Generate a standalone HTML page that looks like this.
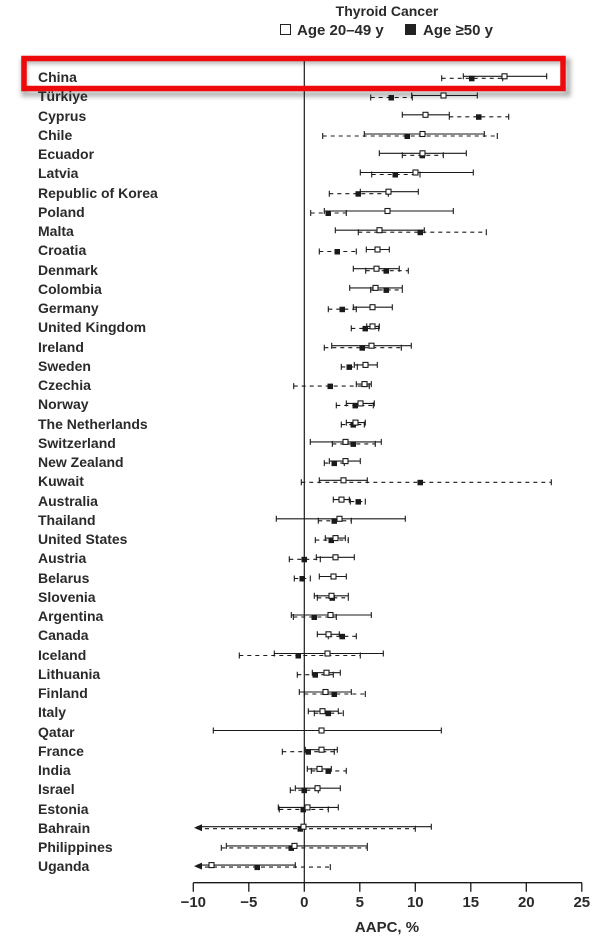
<!DOCTYPE html>
<html><head><meta charset="utf-8"><style>
html,body{margin:0;padding:0;background:#fff;}
svg{display:block;font-family:"Liberation Sans",sans-serif;}
.l{font-size:14px;font-weight:bold;fill:#2a2a2a;}
.o{stroke:#1a1a1a;stroke-width:1.1;fill:none;}
.f{stroke:#1a1a1a;stroke-width:1.1;fill:none;stroke-dasharray:4 4;}
.os{fill:#fff;stroke:#1a1a1a;stroke-width:1.1;}
.fs{fill:#1a1a1a;}
</style></head><body>
<svg width="603" height="946" viewBox="0 0 603 946">
<defs><filter id="sh" x="-5%" y="-50%" width="110%" height="200%"><feGaussianBlur stdDeviation="2.5"/></filter></defs>
<text x="387" y="16" text-anchor="middle" style="font-size:14px;font-weight:bold;fill:#2a2a2a">Thyroid Cancer</text>
<rect x="280.5" y="24.5" width="10" height="10" fill="#fff" stroke="#222"/>
<text x="297" y="35" style="font-size:15px;font-weight:bold;fill:#2a2a2a">Age 20–49 y</text>
<rect x="405" y="24" width="11" height="11" fill="#222"/>
<text x="423" y="35" style="font-size:15px;font-weight:bold;fill:#2a2a2a">Age ≥50 y</text>

<rect x="24" y="61" width="544" height="33" fill="none" stroke="#888" stroke-width="5" filter="url(#sh)" opacity="0.7"/>

<line x1="304.3" y1="60" x2="304.3" y2="883" stroke="#1a1a1a" stroke-width="1.2"/>

<g class="l">
<text x="38" y="82">China</text><text x="38" y="101">Türkiye</text><text x="38" y="121">Cyprus</text><text x="38" y="140">Chile</text><text x="38" y="159">Ecuador</text><text x="38" y="178">Latvia</text><text x="38" y="198">Republic of Korea</text><text x="38" y="217">Poland</text><text x="38" y="236">Malta</text><text x="38" y="255">Croatia</text><text x="38" y="275">Denmark</text><text x="38" y="294">Colombia</text><text x="38" y="313">Germany</text><text x="38" y="332">United Kingdom</text><text x="38" y="352">Ireland</text><text x="38" y="371">Sweden</text><text x="38" y="390">Czechia</text><text x="38" y="409">Norway</text><text x="38" y="429">The Netherlands</text><text x="38" y="448">Switzerland</text><text x="38" y="467">New Zealand</text><text x="38" y="486">Kuwait</text><text x="38" y="506">Australia</text><text x="38" y="525">Thailand</text><text x="38" y="544">United States</text><text x="38" y="563">Austria</text><text x="38" y="583">Belarus</text><text x="38" y="602">Slovenia</text><text x="38" y="621">Argentina</text><text x="38" y="640">Canada</text><text x="38" y="660">Iceland</text><text x="38" y="679">Lithuania</text><text x="38" y="698">Finland</text><text x="38" y="717">Italy</text><text x="38" y="737">Qatar</text><text x="38" y="756">France</text><text x="38" y="775">India</text><text x="38" y="794">Israel</text><text x="38" y="814">Estonia</text><text x="38" y="833">Bahrain</text><text x="38" y="852">Philippines</text><text x="38" y="871">Uganda</text>
</g>

<!-- rows: solid open line, dashed filled line -->
<g transform="translate(0,77.3)"><path class="f" d="M441.7 1H502.7"/><path class="o" d="M441.7 -2V4M502.7 -2V4M463.3 -1H546.7M463.3 -4V2M546.7 -4V2"/><rect class="fs" x="469" y="-1.5" width="5.5" height="5.5"/><rect class="os" x="502" y="-3.5" width="5" height="5"/></g>
<g transform="translate(0,96.5)"><path class="f" d="M370.7 1H412.3"/><path class="o" d="M370.7 -2V4M412.3 -2V4M411.7 -1H477.3M411.7 -4V2M477.3 -4V2"/><rect class="fs" x="388.5" y="-1.5" width="5.5" height="5.5"/><rect class="os" x="441" y="-3.5" width="5" height="5"/></g>
<g transform="translate(0,115.8)"><path class="f" d="M449.3 1H508.7"/><path class="o" d="M449.3 -2V4M508.7 -2V4M402.3 -1H449.3M402.3 -4V2M449.3 -4V2"/><rect class="fs" x="476" y="-1.5" width="5.5" height="5.5"/><rect class="os" x="423" y="-3.5" width="5" height="5"/></g>
<g transform="translate(0,135)"><path class="f" d="M322.7 1H497.3"/><path class="o" d="M322.7 -2V4M497.3 -2V4M364.3 -1H484.3M364.3 -4V2M484.3 -4V2"/><rect class="fs" x="404.5" y="-1.5" width="5.5" height="5.5"/><rect class="os" x="420" y="-3.5" width="5" height="5"/></g>
<g transform="translate(0,154.3)"><path class="f" d="M402.3 1H443.3"/><path class="o" d="M402.3 -2V4M443.3 -2V4M379.3 -1H466.3M379.3 -4V2M466.3 -4V2"/><rect class="fs" x="419.5" y="-1.5" width="5.5" height="5.5"/><rect class="os" x="420" y="-3.5" width="5" height="5"/></g>
<g transform="translate(0,173.5)"><path class="f" d="M371.7 1H420"/><path class="o" d="M371.7 -2V4M420 -2V4M360.3 -1H473.3M360.3 -4V2M473.3 -4V2"/><rect class="fs" x="392.5" y="-1.5" width="5.5" height="5.5"/><rect class="os" x="413" y="-3.5" width="5" height="5"/></g>
<g transform="translate(0,192.7)"><path class="f" d="M329.3 1H388.3"/><path class="o" d="M329.3 -2V4M388.3 -2V4M360.3 -1H418.3M360.3 -4V2M418.3 -4V2"/><rect class="fs" x="355.5" y="-1.5" width="5.5" height="5.5"/><rect class="os" x="386" y="-3.5" width="5" height="5"/></g>
<g transform="translate(0,212)"><path class="f" d="M310.7 1H346.3"/><path class="o" d="M310.7 -2V4M346.3 -2V4M324.3 -1H453.3M324.3 -4V2M453.3 -4V2"/><rect class="fs" x="325.5" y="-1.5" width="5.5" height="5.5"/><rect class="os" x="385" y="-3.5" width="5" height="5"/></g>
<g transform="translate(0,231.2)"><path class="f" d="M358.3 1H486.3"/><path class="o" d="M358.3 -2V4M486.3 -2V4M335.3 -1H424.3M335.3 -4V2M424.3 -4V2"/><rect class="fs" x="417.5" y="-1.5" width="5.5" height="5.5"/><rect class="os" x="377" y="-3.5" width="5" height="5"/></g>
<g transform="translate(0,250.5)"><path class="f" d="M319.3 1H356.3"/><path class="o" d="M319.3 -2V4M356.3 -2V4M366.3 -1H389.3M366.3 -4V2M389.3 -4V2"/><rect class="fs" x="334.5" y="-1.5" width="5.5" height="5.5"/><rect class="os" x="375" y="-3.5" width="5" height="5"/></g>
<g transform="translate(0,269.7)"><path class="f" d="M365.7 1H408.3"/><path class="o" d="M365.7 -2V4M408.3 -2V4M353.3 -1H399.3M353.3 -4V2M399.3 -4V2"/><rect class="fs" x="383.5" y="-1.5" width="5.5" height="5.5"/><rect class="os" x="374" y="-3.5" width="5" height="5"/></g>
<g transform="translate(0,288.9)"><path class="f" d="M370.7 1H402.3"/><path class="o" d="M370.7 -2V4M402.3 -2V4M349.7 -1H402.3M349.7 -4V2M402.3 -4V2"/><rect class="fs" x="383.5" y="-1.5" width="5.5" height="5.5"/><rect class="os" x="373" y="-3.5" width="5" height="5"/></g>
<g transform="translate(0,308.2)"><path class="f" d="M328.3 1H356.3"/><path class="o" d="M328.3 -2V4M356.3 -2V4M353.3 -1H392.3M353.3 -4V2M392.3 -4V2"/><rect class="fs" x="339.5" y="-1.5" width="5.5" height="5.5"/><rect class="os" x="370" y="-3.5" width="5" height="5"/></g>
<g transform="translate(0,327.4)"><path class="f" d="M351.3 1H378.7"/><path class="o" d="M351.3 -2V4M378.7 -2V4M366.7 -1H379.3M366.7 -4V2M379.3 -4V2"/><rect class="fs" x="362.5" y="-1.5" width="5.5" height="5.5"/><rect class="os" x="370" y="-3.5" width="5" height="5"/></g>
<g transform="translate(0,346.7)"><path class="f" d="M324.3 1H401.3"/><path class="o" d="M324.3 -2V4M401.3 -2V4M331.7 -1H411.3M331.7 -4V2M411.3 -4V2"/><rect class="fs" x="359.5" y="-1.5" width="5.5" height="5.5"/><rect class="os" x="369" y="-3.5" width="5" height="5"/></g>
<g transform="translate(0,365.9)"><path class="f" d="M341.3 1H357.3"/><path class="o" d="M341.3 -2V4M357.3 -2V4M354.3 -1H377.3M354.3 -4V2M377.3 -4V2"/><rect class="fs" x="346.5" y="-1.5" width="5.5" height="5.5"/><rect class="os" x="363" y="-3.5" width="5" height="5"/></g>
<g transform="translate(0,385.1)"><path class="f" d="M293.7 1H369.3"/><path class="o" d="M293.7 -2V4M369.3 -2V4M356.3 -1H371.3M356.3 -4V2M371.3 -4V2"/><rect class="fs" x="327.5" y="-1.5" width="5.5" height="5.5"/><rect class="os" x="362" y="-3.5" width="5" height="5"/></g>
<g transform="translate(0,404.4)"><path class="f" d="M336.3 1H373.3"/><path class="o" d="M336.3 -2V4M373.3 -2V4M346.3 -1H374.3M346.3 -4V2M374.3 -4V2"/><rect class="fs" x="352.5" y="-1.5" width="5.5" height="5.5"/><rect class="os" x="358" y="-3.5" width="5" height="5"/></g>
<g transform="translate(0,423.6)"><path class="f" d="M341.3 1H364.3"/><path class="o" d="M341.3 -2V4M364.3 -2V4M346.3 -1H365.3M346.3 -4V2M365.3 -4V2"/><rect class="fs" x="350.5" y="-1.5" width="5.5" height="5.5"/><rect class="os" x="353" y="-3.5" width="5" height="5"/></g>
<g transform="translate(0,442.9)"><path class="f" d="M332.3 1H375.3"/><path class="o" d="M332.3 -2V4M375.3 -2V4M310.3 -1H381.3M310.3 -4V2M381.3 -4V2"/><rect class="fs" x="350.5" y="-1.5" width="5.5" height="5.5"/><rect class="os" x="343" y="-3.5" width="5" height="5"/></g>
<g transform="translate(0,462.1)"><path class="f" d="M324.3 1H344.3"/><path class="o" d="M324.3 -2V4M344.3 -2V4M329.3 -1H360.3M329.3 -4V2M360.3 -4V2"/><rect class="fs" x="331.5" y="-1.5" width="5.5" height="5.5"/><rect class="os" x="343" y="-3.5" width="5" height="5"/></g>
<g transform="translate(0,481.3)"><path class="f" d="M301.3 1H551.3"/><path class="o" d="M301.3 -2V4M551.3 -2V4M319.3 -1H367.3M319.3 -4V2M367.3 -4V2"/><rect class="fs" x="417.5" y="-1.5" width="5.5" height="5.5"/><rect class="os" x="341" y="-3.5" width="5" height="5"/></g>
<g transform="translate(0,500.6)"><path class="f" d="M350.3 1H365.3"/><path class="o" d="M350.3 -2V4M365.3 -2V4M333.3 -1H349.3M333.3 -4V2M349.3 -4V2"/><rect class="fs" x="355.5" y="-1.5" width="5.5" height="5.5"/><rect class="os" x="339" y="-3.5" width="5" height="5"/></g>
<g transform="translate(0,519.8)"><path class="f" d="M318.3 1H351.3"/><path class="o" d="M318.3 -2V4M351.3 -2V4M276.3 -1H405.3M276.3 -4V2M405.3 -4V2"/><rect class="fs" x="331.5" y="-1.5" width="5.5" height="5.5"/><rect class="os" x="337" y="-3.5" width="5" height="5"/></g>
<g transform="translate(0,539.1)"><path class="f" d="M315.3 1H348.3"/><path class="o" d="M315.3 -2V4M348.3 -2V4M325.3 -1H345.3M325.3 -4V2M345.3 -4V2"/><rect class="fs" x="328.5" y="-1.5" width="5.5" height="5.5"/><rect class="os" x="333" y="-3.5" width="5" height="5"/></g>
<g transform="translate(0,558.3)"><path class="f" d="M289.3 1H320.3"/><path class="o" d="M289.3 -2V4M320.3 -2V4M316.3 -1H354.3M316.3 -4V2M354.3 -4V2"/><rect class="fs" x="301.5" y="-1.5" width="5.5" height="5.5"/><rect class="os" x="333" y="-3.5" width="5" height="5"/></g>
<g transform="translate(0,577.5)"><path class="f" d="M294.3 1H310.3"/><path class="o" d="M294.3 -2V4M310.3 -2V4M319.3 -1H346.3M319.3 -4V2M346.3 -4V2"/><rect class="fs" x="299.5" y="-1.5" width="5.5" height="5.5"/><rect class="os" x="331" y="-3.5" width="5" height="5"/></g>
<g transform="translate(0,596.8)"><path class="f" d="M317.3 1H348.3"/><path class="o" d="M317.3 -2V4M348.3 -2V4M314.3 -1H348.3M314.3 -4V2M348.3 -4V2"/><rect class="fs" x="329.5" y="-1.5" width="5.5" height="5.5"/><rect class="os" x="329" y="-3.5" width="5" height="5"/></g>
<g transform="translate(0,616)"><path class="f" d="M293.3 1H336.3"/><path class="o" d="M293.3 -2V4M336.3 -2V4M291.3 -1H371.3M291.3 -4V2M371.3 -4V2"/><rect class="fs" x="311.5" y="-1.5" width="5.5" height="5.5"/><rect class="os" x="328" y="-3.5" width="5" height="5"/></g>
<g transform="translate(0,635.3)"><path class="f" d="M328.3 1H356.3"/><path class="o" d="M328.3 -2V4M356.3 -2V4M317.3 -1H339.3M317.3 -4V2M339.3 -4V2"/><rect class="fs" x="339.5" y="-1.5" width="5.5" height="5.5"/><rect class="os" x="326" y="-3.5" width="5" height="5"/></g>
<g transform="translate(0,654.5)"><path class="f" d="M239.3 1H360.3"/><path class="o" d="M239.3 -2V4M360.3 -2V4M274.3 -1H383.3M274.3 -4V2M383.3 -4V2"/><rect class="fs" x="295.5" y="-1.5" width="5.5" height="5.5"/><rect class="os" x="325" y="-3.5" width="5" height="5"/></g>
<g transform="translate(0,673.7)"><path class="f" d="M297.3 1H333.3"/><path class="o" d="M297.3 -2V4M333.3 -2V4M312.3 -1H340.3M312.3 -4V2M340.3 -4V2"/><rect class="fs" x="312.5" y="-1.5" width="5.5" height="5.5"/><rect class="os" x="324" y="-3.5" width="5" height="5"/></g>
<g transform="translate(0,693)"><path class="f" d="M304.3 1H365.3"/><path class="o" d="M304.3 -2V4M365.3 -2V4M299.3 -1H351.3M299.3 -4V2M351.3 -4V2"/><rect class="fs" x="331.5" y="-1.5" width="5.5" height="5.5"/><rect class="os" x="323" y="-3.5" width="5" height="5"/></g>
<g transform="translate(0,712.2)"><path class="f" d="M314.3 1H343.3"/><path class="o" d="M314.3 -2V4M343.3 -2V4M308.3 -1H338.3M308.3 -4V2M338.3 -4V2"/><rect class="fs" x="325.5" y="-1.5" width="5.5" height="5.5"/><rect class="os" x="320" y="-3.5" width="5" height="5"/></g>
<g transform="translate(0,731.5)"><path class="o" d="M213.3 -1H441.3M213.3 -4V2M441.3 -4V2"/><rect class="os" x="319" y="-3.5" width="5" height="5"/></g>
<g transform="translate(0,750.7)"><path class="f" d="M282.3 1H334.3"/><path class="o" d="M282.3 -2V4M334.3 -2V4M305.3 -1H337.3M305.3 -4V2M337.3 -4V2"/><rect class="fs" x="305.5" y="-1.5" width="5.5" height="5.5"/><rect class="os" x="319" y="-3.5" width="5" height="5"/></g>
<g transform="translate(0,769.9)"><path class="f" d="M311.3 1H346.3"/><path class="o" d="M311.3 -2V4M346.3 -2V4M307.3 -1H331.3M307.3 -4V2M331.3 -4V2"/><rect class="fs" x="325.5" y="-1.5" width="5.5" height="5.5"/><rect class="os" x="317" y="-3.5" width="5" height="5"/></g>
<g transform="translate(0,789.2)"><path class="f" d="M290.3 1H318.3"/><path class="o" d="M290.3 -2V4M318.3 -2V4M295.3 -1H340.3M295.3 -4V2M340.3 -4V2"/><rect class="fs" x="301.5" y="-1.5" width="5.5" height="5.5"/><rect class="os" x="315" y="-3.5" width="5" height="5"/></g>
<g transform="translate(0,808.4)"><path class="f" d="M279.3 1H328.3"/><path class="o" d="M279.3 -2V4M328.3 -2V4M278.3 -1H338.3M278.3 -4V2M338.3 -4V2"/><rect class="fs" x="300.5" y="-1.5" width="5.5" height="5.5"/><rect class="os" x="305" y="-3.5" width="5" height="5"/></g>
<g transform="translate(0,827.7)"><path class="f" d="M197 1H415.3"/><path class="o" d="M415.3 -2V4M197 -1H431.3M431.3 -4V2"/><path d="M194 0L202 -3.5V3.5Z" fill="#1a1a1a"/><rect class="fs" x="297.5" y="-1.5" width="5.5" height="5.5"/><rect class="os" x="301" y="-3.5" width="5" height="5"/></g>
<g transform="translate(0,846.9)"><path class="f" d="M221.3 1H367.3"/><path class="o" d="M221.3 -2V4M367.3 -2V4M226.3 -1H367.3M226.3 -4V2M367.3 -4V2"/><rect class="fs" x="288.5" y="-1.5" width="5.5" height="5.5"/><rect class="os" x="292" y="-3.5" width="5" height="5"/></g>
<g transform="translate(0,866.1)"><path class="f" d="M197 1H330.3"/><path class="o" d="M330.3 -2V4M197 -1H295.3M295.3 -4V2"/><path d="M194 0L202 -3.5V3.5Z" fill="#1a1a1a"/><rect class="fs" x="254.5" y="-1.5" width="5.5" height="5.5"/><rect class="os" x="209" y="-3.5" width="5" height="5"/></g>

<!-- axis -->
<path d="M193.3 882.7H582M193.3 882.7v9M248.8 882.7v9M304.3 882.7v9M359.8 882.7v9M415.3 882.7v9M470.8 882.7v9M526.3 882.7v9M581.8 882.7v9" stroke="#1a1a1a" stroke-width="1.3" fill="none"/>
<g style="font-size:15px;font-weight:bold;fill:#2a2a2a" text-anchor="middle">
<text x="193.3" y="907">−10</text><text x="248.8" y="907">−5</text><text x="304.3" y="907">0</text><text x="359.8" y="907">5</text><text x="415.3" y="907">10</text><text x="470.8" y="907">15</text><text x="526.3" y="907">20</text><text x="581.8" y="907">25</text>
<text x="387" y="932">AAPC, %</text>
</g>

<rect x="24" y="58.5" width="539" height="30" fill="none" stroke="#ee0a0a" stroke-width="5.5"/>
</svg>
</body></html>
